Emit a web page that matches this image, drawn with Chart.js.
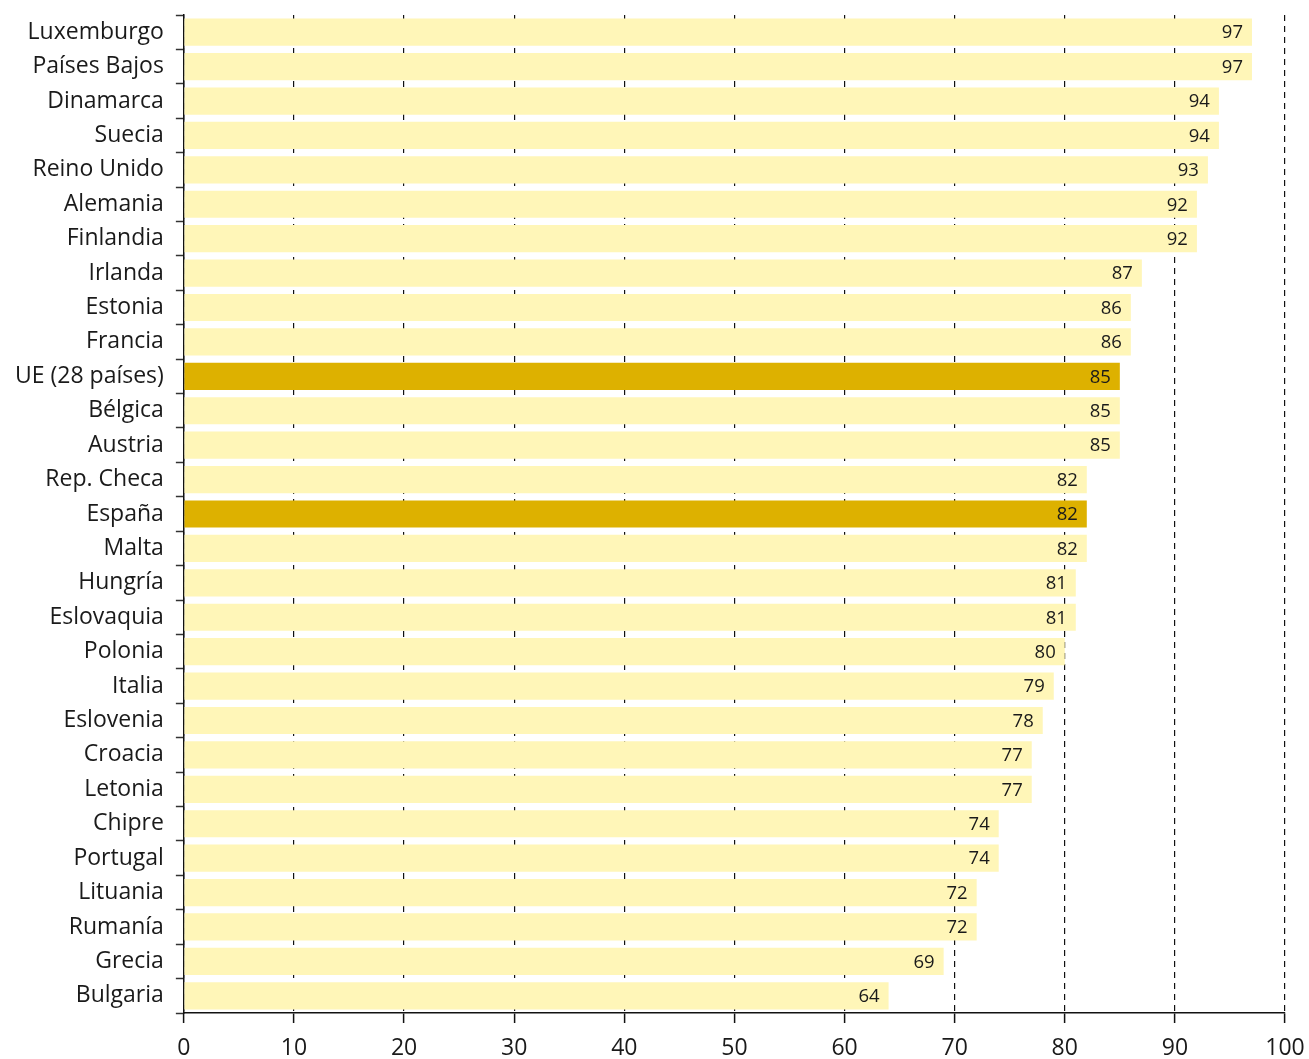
<!DOCTYPE html>
<html>
<head>
<meta charset="utf-8">
<script src="https://cdn.jsdelivr.net/npm/chart.js@4/dist/chart.umd.min.js"></script>
<style>
  html, body { margin: 0; padding: 0; background: #fff; }
  #wrap { width: 1309px; height: 1059px; }
</style>
</head>
<body>
<div id="wrap"><canvas id="myChart"></canvas></div>
<script>
var countries = ["Luxemburgo", "Países Bajos", "Dinamarca", "Suecia", "Reino Unido", "Alemania", "Finlandia",
  "Irlanda", "Estonia", "Francia", "UE (28 países)", "Bélgica", "Austria", "Rep. Checa", "España", "Malta",
  "Hungría", "Eslovaquia", "Polonia", "Italia", "Eslovenia", "Croacia", "Letonia", "Chipre", "Portugal",
  "Lituania", "Rumanía", "Grecia", "Bulgaria"];
var values = [97, 97, 94, 94, 93, 92, 92, 87, 86, 86, 85, 85, 85, 82, 82, 82, 81, 81, 80, 79, 78, 77, 77, 74, 74, 72, 72, 69, 64];
var highlighted = ["UE (28 países)", "España"];
var xTicks = [0, 10, 20, 30, 40, 50, 60, 70, 80, 90, 100];

var lightColor = "#fff6b8";
var darkColor = "#ddb100";
var barColors = countries.map(function (c) {
  return highlighted.indexOf(c) >= 0 ? darkColor : lightColor;
});

var FONT = "'Open Sans', 'DejaVu Sans', sans-serif";

// writes the value inside the end of each bar
var valueLabels = {
  id: "valueLabels",
  afterDatasetsDraw: function (chart) {
    var ctx = chart.ctx;
    var meta = chart.getDatasetMeta(0);
    ctx.save();
    ctx.font = "18.5px " + FONT;
    ctx.fillStyle = "#1a1a1a";
    ctx.textAlign = "right";
    ctx.textBaseline = "middle";
    meta.data.forEach(function (bar, i) {
      ctx.fillText(values[i], bar.x - 9, bar.y + 1);
    });
    ctx.restore();
  }
};

new Chart("myChart", {
  type: "bar",
  data: {
    labels: countries,
    datasets: [{
      data: values,
      backgroundColor: barColors,
      borderWidth: 0,
      barPercentage: 0.79,
      categoryPercentage: 1.0
    }]
  },
  plugins: [valueLabels],
  options: {
    indexAxis: "y",
    responsive: true,
    maintainAspectRatio: false,
    animation: false,
    layout: { padding: { top: 15, right: 0, bottom: -15, left: 11 } },
    plugins: {
      legend: { display: false },
      tooltip: { enabled: false }
    },
    scales: {
      x: {
        min: 0,
        max: 100,
        afterBuildTicks: function (axis) {
          axis.ticks = xTicks.map(function (v) { return { value: v }; });
        },
        afterFit: function (axis) {
          // "100" may hang past the plot edge, as in the original
          axis.paddingRight = 24;
        },
        grid: {
          color: "#111",
          lineWidth: 1.2,
          tickLength: 10,
          tickColor: "#111",
          tickWidth: 1.5,
          tickBorderDash: []
        },
        border: { display: true, color: "#111", width: 1.5, dash: [6, 5] },
        ticks: {
          font: { size: 23, family: FONT, lineHeight: 1.0 },
          color: "#1a1a1a",
          padding: 14,
          maxRotation: 0
        }
      },
      y: {
        position: "left",
        weight: 1,
        afterFit: function (axis) {
          axis.paddingTop = 0;
        },
        grid: { display: false },
        border: { display: false },
        ticks: {
          font: { size: 23, family: FONT },
          color: "#1a1a1a",
          padding: 4,
          autoSkip: false
        }
      },
      yt: {
        type: "linear",
        position: "left",
        weight: 0,
        min: 0,
        max: 28,
        reverse: true,
        ticks: { stepSize: 1, display: false },
        grid: {
          drawOnChartArea: false,
          tickLength: 8,
          tickColor: "#333",
          tickWidth: 1.5
        },
        border: { display: true, color: "#111", width: 1.5 }
      }
    }
  }
});
</script>
</body>
</html>
